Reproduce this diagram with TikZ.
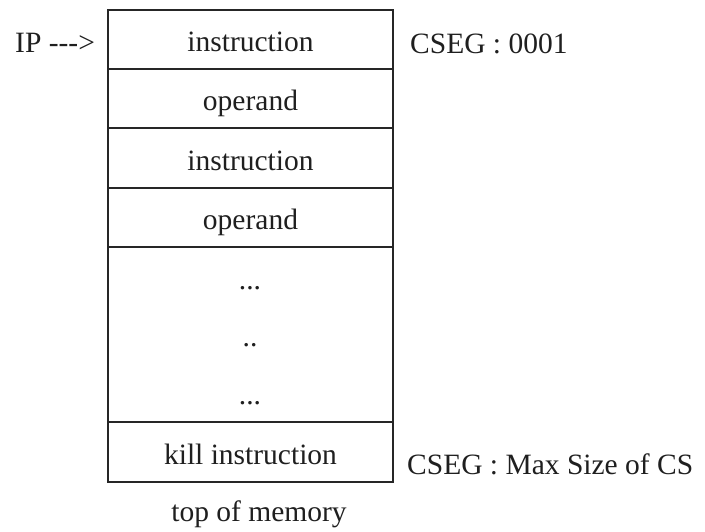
\documentclass[tikz,border=0pt]{standalone}
\usepackage{fontspec}
\setmainfont{Liberation Serif}
\begin{document}
\begin{tikzpicture}[x=1pt,y=-1pt,
  every node/.style={font=\fontsize{29.5}{33}\selectfont, text=black!88},
  cell/.style={draw=black!85, line width=1.3pt, minimum width=285pt,
    inner sep=0pt, text height=24pt, text depth=0pt},
  lbl/.style={inner sep=0pt, anchor=base west},
  dotsrow/.style={inner sep=0pt, anchor=base}]
\useasboundingbox (0,0) rectangle (705,531);
% memory cells of the code segment, top to bottom
\node[cell, minimum height=59pt]  (r1) at (250.5,39.5)  {instruction};
\node[cell, minimum height=59pt]  (r2) at (250.5,98.5)  {operand};
\node[cell, minimum height=60pt]  (r3) at (250.5,158)   {instruction};
\node[cell, minimum height=59pt]  (r4) at (250.5,217.5) {operand};
\node[cell, minimum height=175pt] (r5) at (250.5,334.5) {};
\node[cell, minimum height=60pt]  (r6) at (250.5,452)   {kill instruction};
% elided cells
\node[dotsrow] (d1) at (250,289) {...};
\node[dotsrow] (d2) at (250,346) {..};
\node[dotsrow] (d3) at (250,404) {...};
% pointers and segment offsets
\node[lbl] (ip) at (15,52) {IP -{}-{}-{}>};
\node[lbl] (cs0) at (410,53) {CSEG : 0001};
\node[lbl] (csmax) at (407,474) {CSEG : Max Size of CS};
\node[inner sep=0pt, anchor=base] (top) at (259,521) {top of memory};
\end{tikzpicture}
\end{document}
